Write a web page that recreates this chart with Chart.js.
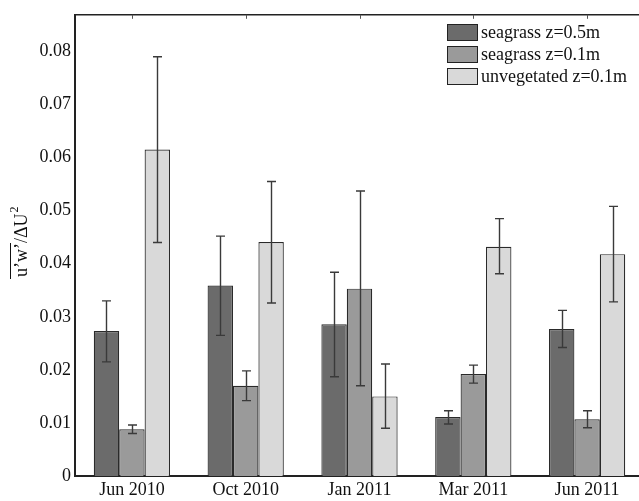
<!DOCTYPE html>
<html>
<head>
<meta charset="utf-8">
<script src="https://cdn.jsdelivr.net/npm/chart.js@4"></script>
<style>
  html, body { margin: 0; padding: 0; background: #fff; overflow: hidden; }
  #wrap { width: 645px; height: 501px; }
</style>
</head>
<body>
<div id="wrap"><canvas id="stressChart" width="645" height="501"></canvas></div>
<script>
const categories = ["Jun 2010", "Oct 2010", "Jan 2011", "Mar 2011", "Jun 2011"];
const seriesNames = ["seagrass z=0.5m", "seagrass z=0.1m", "unvegetated z=0.1m"];

const seagrass05 = [0.0273, 0.0359, 0.0286, 0.0111, 0.0277];
const seagrass05Lo = [0.0215, 0.0265, 0.0187, 0.0098, 0.0242];
const seagrass05Hi = [0.0330, 0.0452, 0.0384, 0.0123, 0.0312];

const seagrass01 = [0.0088, 0.0170, 0.0353, 0.0192, 0.0107];
const seagrass01Lo = [0.0080, 0.0142, 0.0170, 0.0175, 0.0091];
const seagrass01Hi = [0.0096, 0.0198, 0.0537, 0.0209, 0.0123];

const unveg01 = [0.0615, 0.0441, 0.0150, 0.0432, 0.0418];
const unveg01Lo = [0.0440, 0.0326, 0.0090, 0.0381, 0.0328];
const unveg01Hi = [0.0790, 0.0555, 0.0211, 0.0485, 0.0508];

const yTicks = [0, 0.01, 0.02, 0.03, 0.04, 0.05, 0.06, 0.07, 0.08];
const yTickLabels = ["0", "0.01", "0.02", "0.03", "0.04", "0.05", "0.06", "0.07", "0.08"];

const errLow = [seagrass05Lo, seagrass01Lo, unveg01Lo];
const errHigh = [seagrass05Hi, seagrass01Hi, unveg01Hi];

const FONT = "Liberation Serif";
const INK = "#111";

// error bars, frame, legend and axis title drawn on top
const extras = {
  id: "extras",
  afterDatasetsDraw(chart) {
    const ctx = chart.ctx;
    const y = chart.scales.y;
    ctx.save();
    ctx.strokeStyle = "#3a3a3a";
    ctx.lineWidth = 1.4;
    chart.data.datasets.forEach((ds, i) => {
      const meta = chart.getDatasetMeta(i);
      meta.data.forEach((bar, j) => {
        const x = Math.round(bar.x) + 0.5;
        const yHi = y.getPixelForValue(errHigh[i][j]);
        const yLo = y.getPixelForValue(errLow[i][j]);
        ctx.beginPath();
        ctx.moveTo(x, yHi);
        ctx.lineTo(x, yLo);
        ctx.moveTo(x - 4.5, yHi);
        ctx.lineTo(x + 4.5, yHi);
        ctx.moveTo(x - 4.5, yLo);
        ctx.lineTo(x + 4.5, yLo);
        ctx.stroke();
      });
    });
    ctx.restore();
  },
  afterDraw(chart) {
    const ctx = chart.ctx;
    const a = chart.chartArea;
    const xs = chart.scales.x;
    ctx.save();
    // top and right frame
    ctx.strokeStyle = "#222";
    ctx.lineWidth = 1.5;
    ctx.beginPath();
    ctx.moveTo(a.left, a.top);
    ctx.lineTo(a.right, a.top);
    ctx.lineTo(a.right, a.bottom);
    ctx.stroke();
    // small inward ticks on the top edge
    ctx.lineWidth = 1;
    ctx.strokeStyle = "#555";
    categories.forEach((c, i) => {
      const px = Math.round(xs.getPixelForValue(i)) + 0.5;
      ctx.beginPath();
      ctx.moveTo(px, a.top);
      ctx.lineTo(px, a.top + 4);
      ctx.stroke();
    });

    // legend
    ctx.font = "18px '" + FONT + "'";
    ctx.textBaseline = "middle";
    ctx.textAlign = "left";
    chart.data.datasets.forEach((ds, i) => {
      const top = 24 + i * 22;
      ctx.fillStyle = ds.backgroundColor;
      ctx.fillRect(447, top, 30, 16);
      ctx.strokeStyle = "#222";
      ctx.lineWidth = 1;
      ctx.strokeRect(447.5, top + 0.5, 30, 16);
      ctx.fillStyle = INK;
      ctx.fillText(ds.label, 481, top + 9);
    });

    // y axis title: overline(u'w')/ΔU^2
    ctx.translate(27, 277);
    ctx.rotate(-Math.PI / 2);
    ctx.textBaseline = "alphabetic";
    ctx.fillStyle = INK;
    ctx.font = "18px '" + FONT + "'";
    const part1 = "u\u2019w\u2019";
    const part2 = "/\u0394U";
    ctx.fillText(part1, 0, 0);
    const w1 = ctx.measureText(part1).width;
    ctx.fillText(part2, w1, 0);
    const w2 = ctx.measureText(part2).width;
    ctx.font = "12px '" + FONT + "'";
    ctx.fillText("2", w1 + w2 + 1, -9);
    ctx.strokeStyle = INK;
    ctx.lineWidth = 1;
    ctx.beginPath();
    ctx.moveTo(-2, -16.5);
    ctx.lineTo(w1, -16.5);
    ctx.stroke();
    ctx.restore();
  }
};

const ctx = document.getElementById("stressChart").getContext("2d");
new Chart(ctx, {
  type: "bar",
  data: {
    labels: categories,
    datasets: [
      {
        label: seriesNames[0],
        data: seagrass05,
        backgroundColor: "#6b6b6b",
        borderColor: "#2a2a2a",
        borderWidth: 1.2,
      },
      {
        label: seriesNames[1],
        data: seagrass01,
        backgroundColor: "#9a9a9a",
        borderColor: "#2a2a2a",
        borderWidth: 1.2,
      },
      {
        label: seriesNames[2],
        data: unveg01,
        backgroundColor: "#d9d9d9",
        borderColor: "#2a2a2a",
        borderWidth: 1.2,
      },
    ],
  },
  options: {
    responsive: false,
    animation: false,
    events: [],
    layout: { padding: { top: 11, right: 1, left: 0, bottom: 0 } },
    datasets: {
      bar: { categoryPercentage: 0.67, barPercentage: 1.0 },
    },
    scales: {
      x: {
        grid: { display: false, drawTicks: false },
        border: { display: true, color: "#222", width: 2 },
        ticks: {
          color: INK,
          padding: 3,
          maxRotation: 0,
          font: { family: FONT, size: 18 },
        },
        afterFit(axis) { axis.height = 25; },
      },
      y: {
        min: 0,
        max: 0.0869,
        grid: { display: false, drawTicks: false },
        border: { display: true, color: "#222", width: 2 },
        afterBuildTicks(axis) {
          axis.ticks = yTicks.map((v) => ({ value: v }));
        },
        ticks: {
          color: INK,
          padding: 4,
          font: { family: FONT, size: 18 },
          callback: (v, i) => yTickLabels[i],
        },
        afterFit(axis) { axis.width = 75; },
      },
    },
    plugins: {
      legend: { display: false },
      tooltip: { enabled: false },
      title: { display: false },
    },
  },
  plugins: [extras],
});
</script>
</body>
</html>
